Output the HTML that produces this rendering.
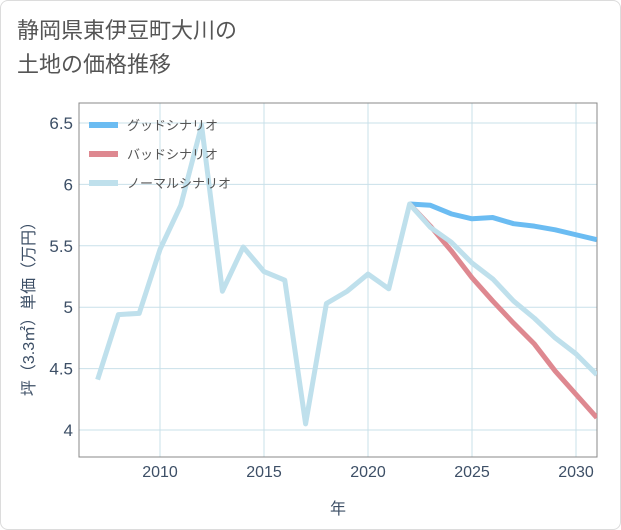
<!DOCTYPE html>
<html><head><meta charset="utf-8"><style>
html,body{margin:0;padding:0;background:#fff;}
body{width:621px;height:530px;overflow:hidden;font-family:"Liberation Sans","Noto Sans CJK JP",sans-serif;}
#card{position:absolute;left:0;top:0;width:619px;height:528px;border:1px solid #dcdcdc;border-radius:8px;background:#fff;}
#title{position:absolute;left:17px;top:14px;font-size:22px;line-height:34px;color:#555;}
</style></head><body>
<div id="card"></div>
<div id="title">静岡県東伊豆町大川の<br>土地の価格推移</div>
<svg id="chart" width="621" height="530" style="position:absolute;left:0;top:0"></svg>
<script>
const years=[2007,2008,2009,2010,2011,2012,2013,2014,2015,2016,2017,2018,2019,2020,2021,2022,2023,2024,2025,2026,2027,2028,2029,2030,2031];
const normal=[4.41,4.94,4.95,5.47,5.83,6.48,5.13,5.49,5.29,5.22,4.05,5.03,5.13,5.27,5.15,5.84,5.65,5.53,5.36,5.23,5.05,4.91,4.75,4.62,4.45];
const scenYears=[2022,2023,2024,2025,2026,2027,2028,2029,2030,2031];
const good=[5.84,5.83,5.76,5.72,5.73,5.68,5.66,5.63,5.59,5.55];
const bad=[5.84,5.66,5.46,5.24,5.05,4.87,4.70,4.48,4.29,4.10];
const xTicks=[2010,2015,2020,2025,2030];
const yTicks=[4,4.5,5,5.5,6,6.5];
const yLabels=["4","4.5","5","5.5","6","6.5"];
const L=79,R=597,T=103,B=457;
const x=v=>160+(v-2010)*20.8;
const y=v=>430-(v-4)*122.8;
const svg=document.getElementById('chart');
const NS='http://www.w3.org/2000/svg';
function mk(t,a,p){const e=document.createElementNS(NS,t);for(const k in a)e.setAttribute(k,a[k]);(p||svg).appendChild(e);return e;}
const clip=mk('clipPath',{id:'pc'});mk('rect',{x:L,y:T,width:R-L,height:B-T},clip);
xTicks.forEach(v=>{
 const g=mk('line',{x1:x(v),x2:x(v),y1:T,y2:B,stroke:'#c9e0ea','stroke-width':1});
 
 const t=mk('text',{x:x(v),y:477,'text-anchor':'middle','font-size':16,fill:'#3d4f66'});t.textContent=v;
 
});
yTicks.forEach((v,i)=>{
 const g=mk('line',{x1:L,x2:R,y1:y(v),y2:y(v),stroke:'#c9e0ea','stroke-width':1});
 
 const t=mk('text',{x:73,y:y(v)+6,'text-anchor':'end','font-size':17,fill:'#3d4f66'});t.textContent=yLabels[i];
 
});
const fr=mk('rect',{x:L,y:T,width:R-L,height:B-T,fill:'none',stroke:'#888','stroke-width':1});

function line(xs,vs,c,name){
 const p=mk('polyline',{points:xs.map((v,i)=>x(v)+','+y(vs[i])).join(' '),fill:'none',stroke:c,'stroke-width':5,'stroke-linejoin':'round','clip-path':'url(#pc)'});
 
}
line(scenYears,good,'#6bbcf2','good-scenario-line');
line(scenYears,bad,'#de8890','bad-scenario-line');
line(years,normal,'#bfe0ec','normal-scenario-line');
const leg=[['グッドシナリオ','#6bbcf2',125],['バッドシナリオ','#de8890',154],['ノーマルシナリオ','#bfe0ec',183]];
leg.forEach(([n,c,yy])=>{
 const g=mk('g',{});
 mk('line',{x1:89,x2:118,y1:yy,y2:yy,stroke:c,'stroke-width':6},g);
 const t=mk('text',{x:127,y:yy+5,'font-size':13,fill:'#555'},g);t.textContent=n;
});
const xt=mk('text',{x:338,y:514,'text-anchor':'middle','font-size':16,fill:'#3d4f66'});xt.textContent='年';

const yt=mk('text',{x:0,y:0,'text-anchor':'middle','font-size':16,fill:'#3d4f66',transform:'translate(34,305) rotate(-90)'});yt.textContent='坪（3.3㎡）単価（万円）';

</script>
</body></html>
